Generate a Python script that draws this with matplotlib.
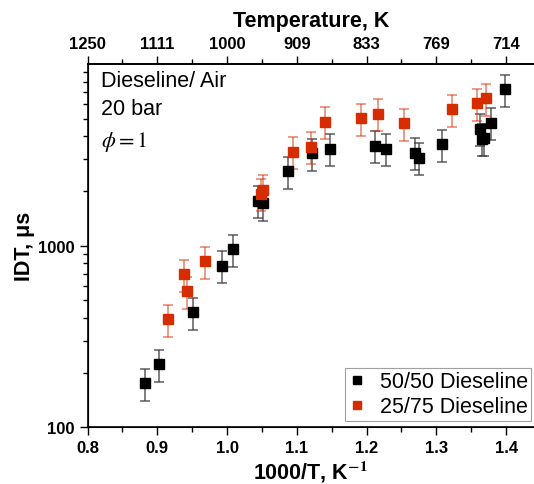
import numpy as np
import matplotlib
matplotlib.use("Agg")
import matplotlib.pyplot as plt
from matplotlib.lines import Line2D
from matplotlib.ticker import MultipleLocator, FixedLocator, NullFormatter, FormatStrFormatter

plt.rcParams['font.family'] = ['Liberation Sans', 'DejaVu Sans']
plt.rcParams['mathtext.fontset'] = 'stix'

# 50/50 Dieseline
x_5050 = [0.883, 0.902, 0.951, 0.993, 1.008, 1.045, 1.051, 1.088, 1.122, 1.148,
          1.212, 1.228, 1.270, 1.275, 1.308, 1.362, 1.365, 1.369, 1.378, 1.399]
idt_5050 = [175, 223, 431, 774, 959, 1771, 1714, 2570, 3228, 3410,
            3557, 3410, 3244, 3043, 3630, 4396, 3873, 3909, 4743, 7242]

# 25/75 Dieseline
x_2575 = [0.915, 0.938, 0.942, 0.969, 1.048, 1.052, 1.095, 1.120, 1.140, 1.192,
          1.217, 1.254, 1.322, 1.358, 1.371]
idt_2575 = [393, 695, 561, 821, 1927, 2036, 3297, 3510, 4820, 5037,
            5323, 4720, 5639, 6095, 6490]

temps = [1250, 1111, 1000, 909, 833, 769, 714]

err_frac = 0.2
red = '#d62d00'

fig = plt.figure(figsize=(5.34, 4.85), dpi=100)
ax = fig.add_axes([0.164, 0.117, 0.836, 0.749])

y1 = np.array(idt_5050)
y2 = np.array(idt_2575)
ax.errorbar(x_5050, y1, yerr=err_frac * y1, fmt='none', ecolor='#444444',
            elinewidth=1.2, capsize=3.5, capthick=1.2, alpha=0.8, zorder=2)
ax.errorbar(x_2575, y2, yerr=err_frac * y2, fmt='none', ecolor=red,
            elinewidth=1.2, capsize=3.5, capthick=1.2, alpha=0.55, zorder=2)
ax.plot(x_5050, y1, 's', color='black', markersize=7.8, zorder=3)
ax.plot(x_2575, y2, 's', color=red, markersize=7.8, zorder=4)

ax.set_yscale('log')
ax.set_xlim(0.8, 1.44)
ax.set_ylim(100, 10000)
ax.set_yticks([100, 1000])
ax.set_yticklabels(['100', '1000'])
ax.yaxis.set_minor_formatter(NullFormatter())
ax.xaxis.set_major_locator(MultipleLocator(0.1))
ax.xaxis.set_minor_locator(MultipleLocator(0.05))
ax.xaxis.set_major_formatter(FormatStrFormatter('%.1f'))

for lab in ax.get_xticklabels() + ax.get_yticklabels():
    lab.set_fontweight('bold')
ax.tick_params(which='both', direction='out', labelsize=12, width=1)
ax.tick_params(which='major', length=6)
ax.tick_params(which='minor', length=3.5)
ax.spines['right'].set_visible(False)
for s in ['left', 'top', 'bottom']:
    ax.spines[s].set_linewidth(1.2)

ax.set_xlabel('1000/T, K$^{\\mathbf{-1}}$', fontsize=15.5, fontweight='bold', labelpad=2)
ax.set_ylabel('IDT, μs', fontsize=15.5, fontweight='bold', labelpad=2)

# top temperature axis
top = ax.twiny()
top.set_xlim(ax.get_xlim())
top.xaxis.set_major_locator(FixedLocator([0.8, 0.9, 1.0, 1.1, 1.2, 1.3, 1.4]))
top.xaxis.set_minor_locator(MultipleLocator(0.05))
top.set_xticklabels([str(t) for t in temps], fontweight='bold', fontsize=12)
top.tick_params(which='both', direction='out', width=1)
top.tick_params(which='major', length=6)
top.tick_params(which='minor', length=3.5)
top.spines['right'].set_visible(False)
top.spines['top'].set_linewidth(1.2)
top.set_xlabel('Temperature, K', fontsize=15.5, fontweight='bold', labelpad=7)

ax.text(0.03, 0.9386, 'Dieseline/ Air', transform=ax.transAxes, fontsize=15.5, va='baseline')
ax.text(0.03, 0.8624, '20 bar', transform=ax.transAxes, fontsize=15.5, va='baseline')
ax.text(0.03, 0.7743, '$\\phi = 1$', transform=ax.transAxes, fontsize=16, va='baseline')

handles = [Line2D([], [], marker='s', color='black', linestyle='none', markersize=6),
           Line2D([], [], marker='s', color=red, linestyle='none', markersize=6)]
leg = ax.legend(handles, ['50/50 Dieseline', '25/75 Dieseline'], loc='lower right',
                bbox_to_anchor=(0.993, 0.018), fontsize=15.5, frameon=True,
                fancybox=False, edgecolor='#888888', handletextpad=0.6,
                handlelength=0.85, borderpad=0.15, labelspacing=0.2,
                borderaxespad=0)
leg.get_frame().set_linewidth(0.8)

fig.savefig('out.png', dpi=100)
